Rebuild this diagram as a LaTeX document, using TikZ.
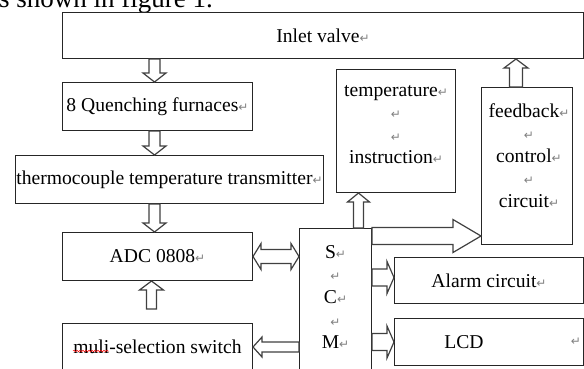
\documentclass[tikz,border=0pt]{standalone}
\usepackage{fontspec}
\setmainfont{Liberation Serif}
\newfontfamily\markfont{DejaVu Sans}
\usetikzlibrary{positioning,calc,decorations.pathmorphing}

% paragraph mark as printed in the figure
\newcommand{\retmark}{{\markfont\fontsize{12pt}{12pt}\selectfont\color{black!50}↵}}

% hollow block arrow: start, end, body half width, head half width, head length
\newcommand{\blockarrow}[5]{%
  \coordinate (ba-s) at (#1);
  \coordinate (ba-e) at (#2);
  \coordinate (ba-h) at ($(ba-e)!#5pt!(ba-s)$);
  \draw[barrow] ($(ba-s)!#3pt!90:(ba-e)$) -- ($(ba-h)!#3pt!-90:(ba-s)$)
    -- ($(ba-h)!#4pt!-90:(ba-s)$) -- (ba-e) -- ($(ba-h)!#4pt!90:(ba-s)$)
    -- ($(ba-h)!#3pt!90:(ba-s)$) -- ($(ba-s)!#3pt!-90:(ba-e)$) -- cycle;
}
% same with a head at both ends
\newcommand{\dblockarrow}[5]{%
  \coordinate (ba-s) at (#1);
  \coordinate (ba-e) at (#2);
  \coordinate (ba-h) at ($(ba-e)!#5pt!(ba-s)$);
  \coordinate (ba-t) at ($(ba-s)!#5pt!(ba-e)$);
  \draw[barrow] (ba-s) -- ($(ba-t)!#4pt!90:(ba-e)$) -- ($(ba-t)!#3pt!90:(ba-e)$)
    -- ($(ba-h)!#3pt!-90:(ba-s)$) -- ($(ba-h)!#4pt!-90:(ba-s)$) -- (ba-e)
    -- ($(ba-h)!#4pt!90:(ba-s)$) -- ($(ba-h)!#3pt!90:(ba-s)$)
    -- ($(ba-t)!#3pt!-90:(ba-e)$) -- ($(ba-t)!#4pt!-90:(ba-e)$) -- cycle;
}

\begin{document}
\begin{tikzpicture}[
        x=1pt, y=-1pt,
        box/.style={rectangle, draw=black!85, line width=1pt, inner sep=0pt, minimum width=190pt, minimum height=48pt, align=center, font=\fontsize{19.6pt}{22.6pt}\selectfont},
        lbl/.style={inner sep=0pt, align=center, font=\fontsize{19.6pt}{22.6pt}\selectfont},
        barrow/.style={draw=black!75, line width=1.2pt, fill=white},
        spell/.style={red, line width=0.5pt, decorate, decoration={snake, amplitude=0.8pt, segment length=3pt}}
    ]
        \useasboundingbox (0,0) rectangle (584,368);
        \clip (0,0) rectangle (584,368);

        % text line above the figure
        \node[anchor=base east, inner sep=0pt, font=\fontsize{27pt}{27pt}\selectfont] (caption) at (213,7) {as shown in figure 1.};

        % left column
        \node[box, minimum width=521pt, minimum height=46pt, anchor=north west] (inlet) at (62,12) {Inlet valve\retmark};
        \node[box, below right=23pt and 0pt of inlet.south west] (quench) {8 Quenching furnaces\retmark};
        \node[box, minimum width=308pt, below right=24pt and -47pt of quench.south west] (thermo) {thermocouple temperature transmitter\retmark};
        \node[box, below right=28pt and 47pt of thermo.south west] (adc) {ADC 0808\retmark};
        \node[box, minimum height=47pt, below=42pt of adc] (muli) {muli-selection switch};
        \draw[spell] (73,351) -- (109,351);

        % right part
        \node[box, minimum width=72pt, minimum height=200pt, anchor=north west] (scm) at (299,228) {};
        \node[box, minimum width=119pt, minimum height=123pt, anchor=north west] (temp) at (336,69) {};
        \node[box, minimum width=91pt, minimum height=157pt, anchor=north west] (feedback) at (481,87) {};
        \node[box, minimum width=189pt, minimum height=46pt, anchor=north west] (alarm) at (394,257) {Alarm circuit\retmark};
        \node[box, minimum width=189pt, minimum height=47pt, below=14pt of alarm] (lcd) {};

        \node[lbl] (scm-text) at ([yshift=-69pt]scm.north) {S\retmark\\\retmark\\C\retmark\\\retmark\\M\retmark};
        \node[lbl] (temp-text) at ([yshift=6.5pt]temp.center) {temperature\retmark\\\retmark\\\retmark\\instruction\retmark};
        \node[lbl] (feedback-text) at ([xshift=2pt,yshift=10.5pt]feedback.center) {feedback\retmark\\\retmark\\control\retmark\\\retmark\\circuit\retmark};
        \node[lbl] (lcd-text) at ([xshift=-25pt]lcd.center) {LCD};
        \node[lbl] (lcd-mark) at ([xshift=-8pt]lcd.east) {\retmark};

        % Arrows
        \coordinate (colL) at ([xshift=-3pt]quench.north);
        \coordinate (colM) at ([xshift=-6pt,yshift=14pt]muli.north);
        \coordinate (scmT) at ([xshift=23pt]scm.north);
        \coordinate (scmR) at ([yshift=-8pt]scm.north east);
        \coordinate (alarmL) at ([yshift=3pt]alarm.west);
        \coordinate (fbT) at ([xshift=-11pt]feedback.north);

        \blockarrow{colL |- inlet.south}{colL}{5.5}{11.5}{9}
        \blockarrow{colL |- quench.south}{colL |- thermo.north}{5.5}{11.5}{9}
        \blockarrow{colL |- thermo.south}{colL |- adc.north}{5.5}{11.5}{9}
        \blockarrow{colM}{colM |- adc.south}{5}{12}{9}
        \dblockarrow{adc.east}{scm.west |- adc.east}{7}{13}{8}
        \blockarrow{scm.west |- muli.east}{muli.east}{5}{10}{9}
        \blockarrow{scmT}{scmT |- temp.south}{5}{11}{9}
        \blockarrow{scmR}{scmR -| feedback.west}{8.5}{16.5}{28}
        \blockarrow{scm.east |- alarmL}{alarmL}{8.5}{16}{7}
        \blockarrow{scm.east |- lcd.west}{lcd.west}{8.5}{16}{7}
        \blockarrow{fbT}{fbT |- inlet.south}{6.5}{12}{9}

    \end{tikzpicture}
\end{document}
